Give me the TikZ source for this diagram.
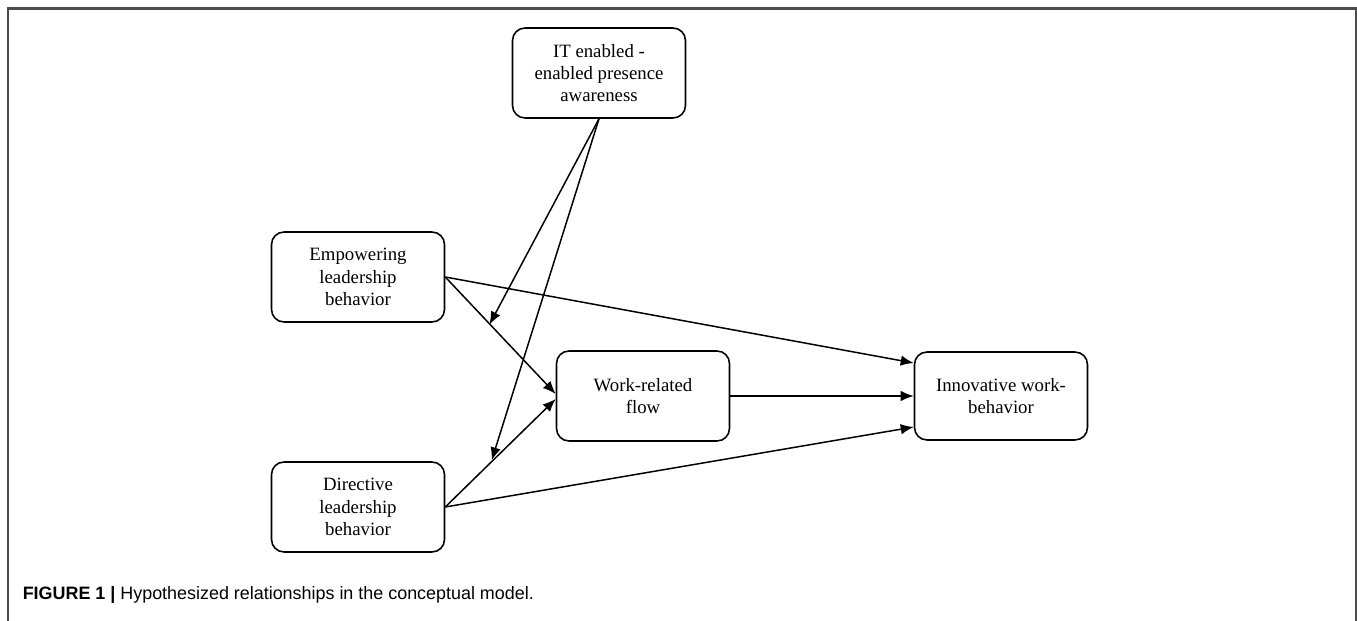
\documentclass[tikz,border=0pt]{standalone}
\usepackage{fontspec}
\setmainfont{Liberation Serif}
\newfontfamily\capfont{Liberation Sans}
\usepackage{tikz}
\usetikzlibrary{arrows,arrows.meta,calc,positioning}

\begin{document}
\begin{tikzpicture}[x=0.02cm,y=-0.02cm]
	\tikzstyle{every node} = [rectangle, rounded corners = 0.25cm, draw = black, line width = 0.9pt, minimum width = 3.46cm, minimum height = 1.8cm, align = center, font = \fontsize{10.7}{12.6}\selectfont]
	\tikzstyle{link} = [-{Latex[length = 0.26cm, width = 0.21cm]}, line width = 0.85pt]
\useasboundingbox (0,0) rectangle (1357,621);
\path[draw, gray!60!black, line width = 1.2pt] (8,621) -- (8,8.5) -- (1356,8.5) -- (1356,621);

\node (it) at (599, 73) {IT enabled -\\enabled presence\\awareness};
\node (emp) at (358, 277) {Empowering\\leadership\\behavior};
\node (dir) at (358, 507) {Directive\\leadership\\behavior};
\node (wrf) at (643, 396) {Work-related\\flow};
\node[minimum height = 1.76cm] (iwb) at (1001, 396) {Innovative work-\\behavior};

\coordinate (m1) at ($(emp.east)!0.4!(wrf.west)$);
\coordinate (m2) at ($(dir.east)!0.42!(wrf.west)$);

	\path[draw, link] (emp.east) -- ($(iwb.west)+(0,-33)$);
	\path[draw, link] (emp.east) -- ($(wrf.west)+(0,-2)$);
	\path[draw, link] (dir.east) -- ($(wrf.west)+(0,3)$);
	\path[draw, link] (dir.east) -- ($(iwb.west)+(0,31)$);
	\path[draw, link] (wrf.east) -- (iwb.west);
	\path[draw, link] (it.south) -- (m1);
	\path[draw, link] (it.south) -- (m2);

    \node[draw = none, anchor = west, minimum width = 0, minimum height = 0, inner sep = 0, font = \capfont\fontsize{10.2}{12}\selectfont] (cap) at (22, 595) {\textbf{FIGURE 1 |} Hypothesized relationships in the conceptual model.};
\end{tikzpicture}
\end{document}
